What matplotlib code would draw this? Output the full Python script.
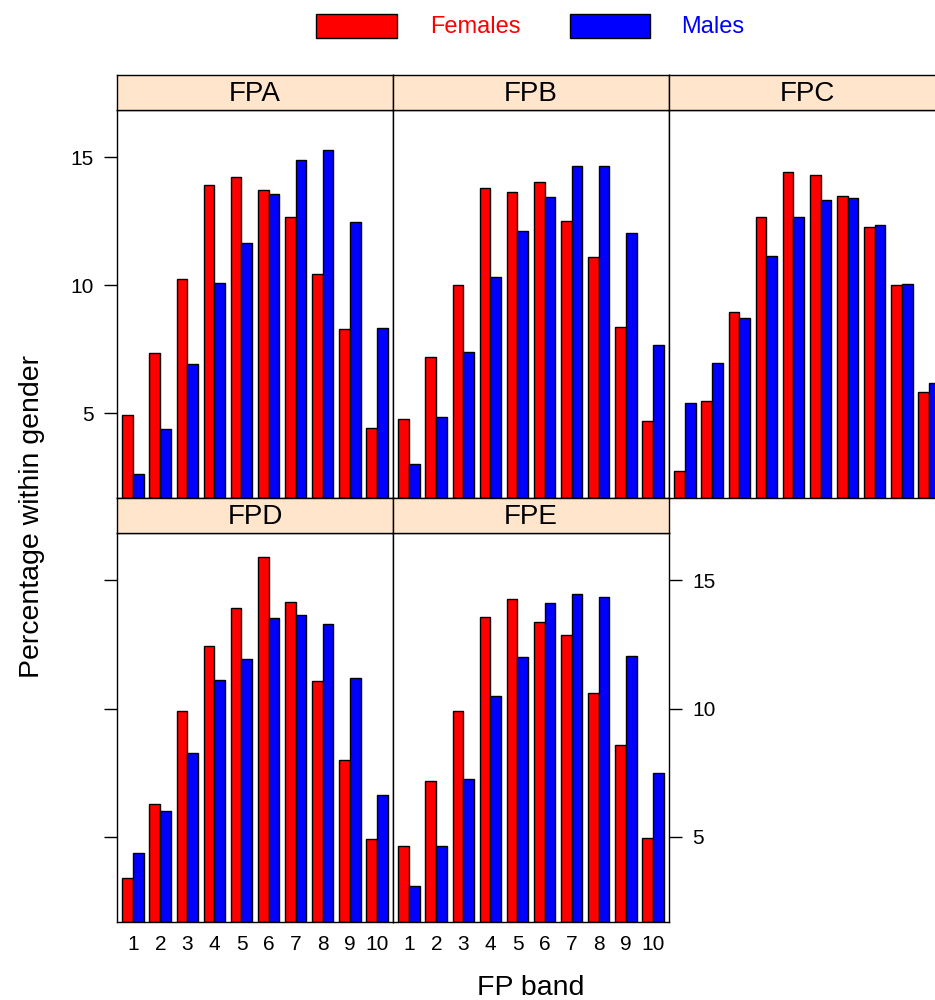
import matplotlib.pyplot as plt
from matplotlib.patches import Rectangle
import numpy as np

plt.rcParams['font.family'] = ['Liberation Sans', 'DejaVu Sans']

# data (percent within gender, by FP band)
bands = [1, 2, 3, 4, 5, 6, 7, 8, 9, 10]
panels = ['FPA', 'FPB', 'FPC', 'FPD', 'FPE']
fpa_females = [4.92, 7.36, 10.22, 13.90, 14.21, 13.70, 12.65, 10.43, 8.27, 4.42]
fpa_males = [2.61, 4.38, 6.91, 10.08, 11.64, 13.55, 14.87, 15.29, 12.48, 8.32]
fpb_females = [4.77, 7.19, 9.99, 13.81, 13.65, 14.03, 12.49, 11.09, 8.36, 4.70]
fpb_males = [3.01, 4.86, 7.39, 10.32, 12.10, 13.43, 14.65, 14.64, 12.04, 7.64]
fpc_females = [2.74, 5.47, 8.94, 12.65, 14.40, 14.29, 13.49, 12.27, 10.01, 5.83]
fpc_males = [5.38, 6.95, 8.71, 11.14, 12.65, 13.32, 13.40, 12.35, 10.04, 6.19]
fpd_females = [3.39, 6.29, 9.90, 12.43, 13.92, 15.91, 14.14, 11.08, 7.99, 4.92]
fpd_males = [4.35, 6.01, 8.27, 11.13, 11.94, 13.53, 13.65, 13.30, 11.19, 6.64]
fpe_females = [4.64, 7.18, 9.91, 13.57, 14.26, 13.38, 12.87, 10.61, 8.58, 4.96]
fpe_males = [3.09, 4.64, 7.27, 10.48, 12.01, 14.13, 14.48, 14.35, 12.04, 7.49]

females = [fpa_females, fpb_females, fpc_females, fpd_females, fpe_females]
males = [fpa_males, fpb_males, fpc_males, fpd_males, fpe_males]

W, H = 935, 1000
fig = plt.figure(figsize=(W / 100, H / 100), dpi=100)


def box(x0, y0, x1, y1):
    return [x0 / W, 1 - y1 / H, (x1 - x0) / W, (y1 - y0) / H]


# panel boxes in pixels: (left, top, right, bottom)
panel_px = [(117, 110, 393, 498), (393, 110, 669, 498), (669, 110, 945, 498),
            (117, 533, 393, 922), (393, 533, 669, 922)]
strip_bg = '#ffe5cc'
ylo, yhi = 1.68, 16.84
x = np.array(bands)

for i, name in enumerate(panels):
    l, t, r, b = panel_px[i]
    ax = fig.add_axes(box(l, t, r, b))
    f = np.array(females[i])
    m = np.array(males[i])
    ax.bar(x - 0.2, f - ylo, bottom=ylo, width=0.4, color='red', edgecolor='black', linewidth=1.0)
    ax.bar(x + 0.2, m - ylo, bottom=ylo, width=0.4, color='blue', edgecolor='black', linewidth=1.0)
    ax.set_xlim(0.4, 10.6)
    ax.set_ylim(ylo, yhi)
    for s in ax.spines.values():
        s.set_linewidth(1.0)
    ax.set_yticks([5, 10, 15])
    ax.tick_params(axis='y', length=9.5, width=1.0, labelsize=15, pad=7)
    ax.tick_params(axis='x', length=0, labelsize=15, pad=9)
    if i >= 3:
        ax.set_xticks(bands)
        ax.set_xticklabels([str(v) for v in bands])
    else:
        ax.set_xticks([])
    if i == 0:
        ax.tick_params(axis='y', left=True, labelleft=True, right=False)
    elif i == 3:
        ax.tick_params(axis='y', left=True, labelleft=False, right=False)
    elif i == 4:
        ax.tick_params(axis='y', left=False, labelleft=False, right=True, labelright=True)
    else:
        ax.tick_params(axis='y', left=False, labelleft=False)

    # strip
    sx = fig.add_axes(box(l, t - 35, r, t))
    sx.set_facecolor(strip_bg)
    sx.set_xticks([])
    sx.set_yticks([])
    for s in sx.spines.values():
        s.set_linewidth(1.0)
    sx.text(0.5, 0.45, name, ha='center', va='center', fontsize=20, transform=sx.transAxes)

# legend on top
fig.patches.append(Rectangle((316 / W, 1 - 38 / H), 81 / W, 24 / H, transform=fig.transFigure,
                             facecolor='red', edgecolor='black', linewidth=1.0))
fig.patches.append(Rectangle((570 / W, 1 - 38 / H), 80 / W, 24 / H, transform=fig.transFigure,
                             facecolor='blue', edgecolor='black', linewidth=1.0))
fig.text(475 / W, 1 - 27 / H, 'Females', color='red', fontsize=17, ha='center', va='center')
fig.text(713 / W, 1 - 27 / H, 'Males', color='blue', fontsize=17, ha='center', va='center')

fig.text(32 / W, 1 - 516 / H, 'Percentage within gender', rotation=90, fontsize=20.5,
         ha='center', va='center')
fig.text(531 / W, 1 - 988 / H, 'FP band', fontsize=20.5, ha='center', va='center')

fig.savefig('out.png', dpi=100)
